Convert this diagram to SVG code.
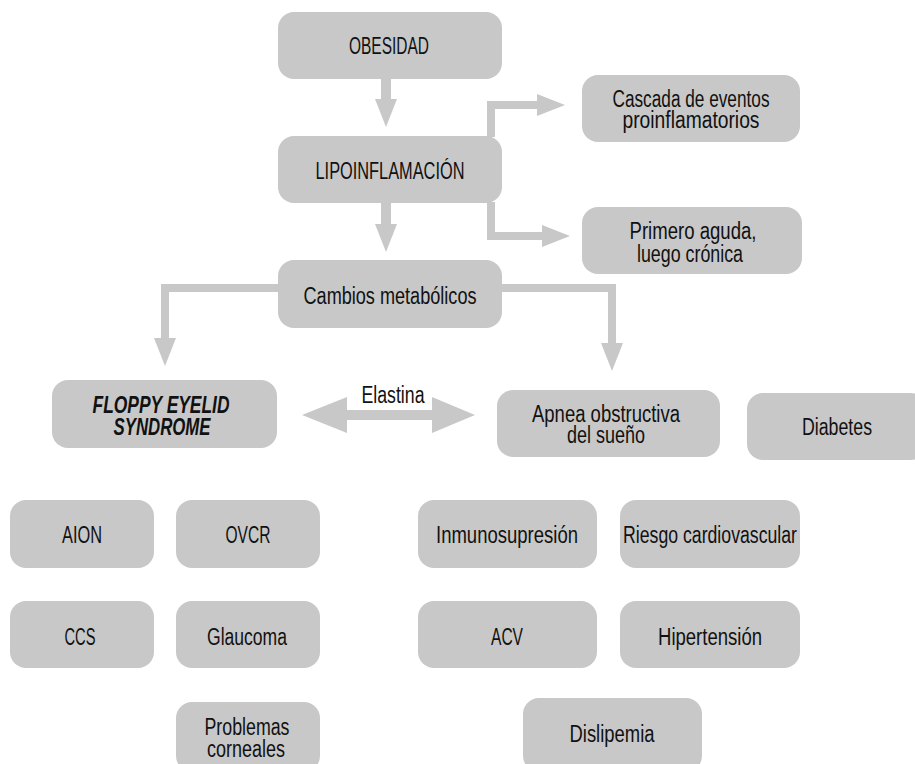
<svg xmlns="http://www.w3.org/2000/svg" width="915" height="764" viewBox="0 0 915 764">
<style>
  .box { fill: #c8c8c8; }
  .t { font-family: "Liberation Sans", Arial, sans-serif; font-size: 23px; fill: #111; text-anchor: middle; }
  .bi { font-weight: bold; font-style: italic; }
  .c { fill: none; stroke: #c8c8c8; stroke-width: 8; stroke-linejoin: miter; }
  .m { stroke-width: 10; }
</style>
<defs>
  <marker id="ah" markerUnits="userSpaceOnUse" viewBox="0 0 28 22" refX="0" refY="11" markerWidth="28" markerHeight="22" orient="auto">
    <path d="M0,0 L28,11 L0,22 z" fill="#c8c8c8"/>
  </marker>
</defs>
<rect width="915" height="764" fill="#ffffff"/>

<g id="connectors">
  <path class="c m" d="M386,79 V99" marker-end="url(#ah)"/>
  <path class="c m" d="M386,203 V224" marker-end="url(#ah)"/>
  <path class="c" d="M491,137 V105 H537" marker-end="url(#ah)"/>
  <path class="c" d="M491,202 V236 H542" marker-end="url(#ah)"/>
  <path class="c" d="M279,288 H165 V338" marker-end="url(#ah)"/>
  <path class="c" d="M502,288 H612 V343" marker-end="url(#ah)"/>
  <polygon id="elastina-arrow" fill="#c8c8c8" points="302,415 347,397 347,410 432,410 432,397 475,415 432,433 432,420 347,420 347,433"/>
  <text class="t" x="393" y="403" textLength="63" lengthAdjust="spacingAndGlyphs">Elastina</text>
</g>

<g id="obesidad"><rect class="box" x="278" y="12" width="224" height="67" rx="16"/><text class="t" x="389" y="54" textLength="80" lengthAdjust="spacingAndGlyphs">OBESIDAD</text></g>
<g id="lipoinflamacion"><rect class="box" x="278" y="136" width="224" height="67" rx="16"/><text class="t" x="390" y="179" textLength="149" lengthAdjust="spacingAndGlyphs">LIPOINFLAMACIÓN</text></g>
<g id="cascada"><rect class="box" x="582" y="75" width="218" height="67" rx="16"/><text class="t" x="691" y="107" textLength="157" lengthAdjust="spacingAndGlyphs">Cascada de eventos</text><text class="t" x="691" y="128" textLength="137" lengthAdjust="spacingAndGlyphs">proinflamatorios</text></g>
<g id="primero"><rect class="box" x="582" y="207" width="220" height="67" rx="16"/><text class="t" x="693" y="239" textLength="127" lengthAdjust="spacingAndGlyphs">Primero aguda,</text><text class="t" x="690" y="262" textLength="106" lengthAdjust="spacingAndGlyphs">luego crónica</text></g>
<g id="cambios"><rect class="box" x="278" y="260" width="224" height="68" rx="16"/><text class="t" x="390" y="304" textLength="173" lengthAdjust="spacingAndGlyphs">Cambios metabólicos</text></g>
<g id="floppy"><rect class="box" x="52" y="380" width="225" height="68" rx="16"/><text class="t bi" x="161" y="413" textLength="137" lengthAdjust="spacingAndGlyphs">FLOPPY EYELID</text><text class="t bi" x="162" y="435" textLength="97" lengthAdjust="spacingAndGlyphs">SYNDROME</text></g>
<g id="apnea"><rect class="box" x="497" y="390" width="223" height="67" rx="16"/><text class="t" x="606" y="422" textLength="148" lengthAdjust="spacingAndGlyphs">Apnea obstructiva</text><text class="t" x="606" y="443" textLength="78" lengthAdjust="spacingAndGlyphs">del sueño</text></g>
<g id="diabetes"><rect class="box" x="747" y="393" width="180" height="67" rx="16"/><text class="t" x="837" y="435" textLength="70" lengthAdjust="spacingAndGlyphs">Diabetes</text></g>

<g id="aion"><rect class="box" x="10" y="500" width="144" height="68" rx="16"/><text class="t" x="82" y="543" textLength="40" lengthAdjust="spacingAndGlyphs">AION</text></g>
<g id="ovcr"><rect class="box" x="176" y="500" width="144" height="68" rx="16"/><text class="t" x="248" y="543" textLength="45" lengthAdjust="spacingAndGlyphs">OVCR</text></g>
<g id="ccs"><rect class="box" x="10" y="601" width="144" height="67" rx="16"/><text class="t" x="80" y="645" textLength="31" lengthAdjust="spacingAndGlyphs">CCS</text></g>
<g id="glaucoma"><rect class="box" x="176" y="601" width="144" height="67" rx="16"/><text class="t" x="247" y="645" textLength="80" lengthAdjust="spacingAndGlyphs">Glaucoma</text></g>
<g id="problemas"><rect class="box" x="176" y="702" width="144" height="70" rx="16"/><text class="t" x="247" y="735" textLength="85" lengthAdjust="spacingAndGlyphs">Problemas</text><text class="t" x="246" y="757" textLength="78" lengthAdjust="spacingAndGlyphs">corneales</text></g>

<g id="inmunosupresion"><rect class="box" x="418" y="500" width="179" height="68" rx="16"/><text class="t" x="507" y="543" textLength="142" lengthAdjust="spacingAndGlyphs">Inmunosupresión</text></g>
<g id="riesgo"><rect class="box" x="620" y="500" width="180" height="68" rx="16"/><text class="t" x="710" y="543" textLength="174" lengthAdjust="spacingAndGlyphs">Riesgo cardiovascular</text></g>
<g id="acv"><rect class="box" x="418" y="601" width="179" height="67" rx="16"/><text class="t" x="507" y="645" textLength="32" lengthAdjust="spacingAndGlyphs">ACV</text></g>
<g id="hipertension"><rect class="box" x="620" y="601" width="180" height="67" rx="16"/><text class="t" x="710" y="645" textLength="104" lengthAdjust="spacingAndGlyphs">Hipertensión</text></g>
<g id="dislipemia"><rect class="box" x="523" y="698" width="179" height="74" rx="16"/><text class="t" x="612" y="742" textLength="85" lengthAdjust="spacingAndGlyphs">Dislipemia</text></g>
</svg>
